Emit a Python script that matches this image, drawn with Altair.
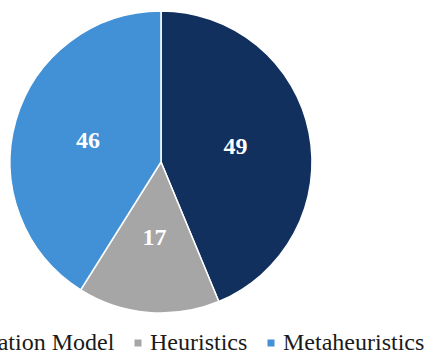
import altair as alt
import pandas as pd

categories = ["Optimization Model", "Heuristics", "Metaheuristics"]
values = [49, 17, 46]
colors = ["#12305e", "#a6a6a6", "#4290d5"]

df = pd.DataFrame({"category": categories, "value": values, "idx": list(range(len(categories)))})

base = alt.Chart(df).encode(
    theta=alt.Theta("value:Q", stack=True),
    order=alt.Order("idx:Q"),
)

arcs = base.mark_arc(stroke="white", strokeWidth=1.5).encode(
    x=alt.value(161),
    y=alt.value(162),
    radius=alt.value(151),
    color=alt.Color(
        "category:N",
        sort=categories,
        scale=alt.Scale(domain=categories, range=colors),
        legend=alt.Legend(
            title=None,
            orient="none",
            direction="horizontal",
            legendX=-105,
            legendY=331,
            symbolType="square",
            symbolSize=49,
            symbolStrokeWidth=0,
            labelFont="Liberation Serif",
            labelFontSize=24,
            labelColor="#1a1a1a",
            labelOffset=0,
            columnPadding=11,
            labelLimit=400,
        ),
    ),
)

labels = base.mark_text(
    font="Liberation Serif", fontSize=24, fontWeight="bold", color="white"
).encode(
    x=alt.value(161),
    y=alt.value(162),
    radius=alt.value(76),
    text="value:Q",
)

chart = (
    (arcs + labels)
    .properties(width=430, height=357, padding=0, autosize=alt.AutoSizeParams(type="none"))
    .configure_view(stroke=None)
)

chart.save("out.html", embed_options={"renderer": "svg", "actions": False})
